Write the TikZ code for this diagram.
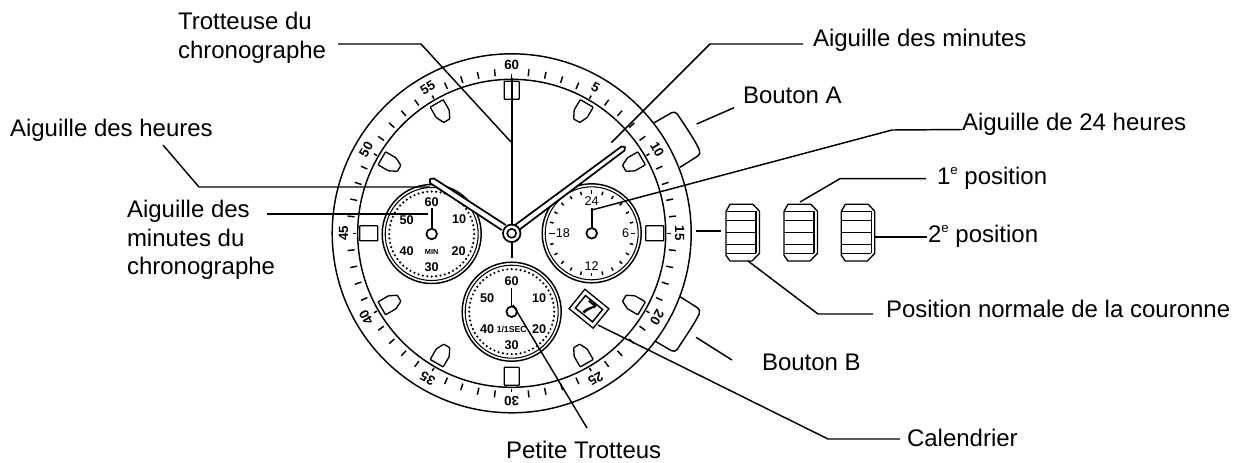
\documentclass[tikz,border=0pt]{standalone}
\usepackage{fontspec}
\setmainfont{Liberation Sans}
\usetikzlibrary{positioning}
\newcommand{\supe}{\raisebox{.42em}{\fontsize{10}{10}\selectfont e}}
\tikzset{>=stealth,
  every node/.style={inner sep=0pt,outer sep=0pt},
  leader/.style={line width=1.1pt},
  ring/.style={line width=1.1pt,fill=white},
  thinring/.style={line width=.8pt},
  marker/.style={line width=1pt,rounded corners=.5pt,fill=white},
  hand/.style={line width=1.3pt,fill=white,line join=round},
  minortick/.style={line width=1.1pt},
  caption/.style={font=\fontsize{18}{21.5}\selectfont,anchor=base west},
  bezelnum/.style={font=\fontsize{10}{10}\selectfont\bfseries},
  dialnum/.style={font=\fontsize{9.5}{10}\selectfont\bfseries},
  dialplain/.style={font=\fontsize{9.5}{10}\selectfont},
  dialsmall/.style={font=\fontsize{5.5}{6}\selectfont\bfseries},
  crownline/.style={line width=.8pt}}
\begin{document}
\begin{tikzpicture}[x=.75pt,y=-.75pt]
  \useasboundingbox (0,0) rectangle (1235,462);
  % push buttons
  \draw[ring,rounded corners=3pt] (654.3,122.7) -- (675,110.7) .. controls (688,130) and (696,142) .. (701,154) -- (680,167.3);
  \draw[ring,rounded corners=3pt] (654.3,340.7) -- (675,352.7) .. controls (688,333) and (696,321) .. (701,310) -- (680,296.7);
  % watch face
  \begin{scope}[shift={(511.7,233.3)}]
    \draw[ring] (0,0) circle (179.5);
    \draw[ring] (0,0) circle (154);
    \foreach \m in {1,...,60}{
      \pgfmathparse{int(mod(\m,5))}
      \ifnum\pgfmathresult=0\else
        \draw[minortick] (6*\m-90:158) -- (6*\m-90:165);
      \fi
    }
    \foreach \m in {5,10,...,60}{
      \draw[minortick] (6*\m-90:155.5) -- (6*\m-90:159);
      \node[bezelnum,rotate=-6*\m] (bezel-\m) at (6*\m-90:168) {\m};
    }
    \foreach \h in {0,3,6,9}{
      \draw[marker,rotate=30*\h] (-7.5,-152) rectangle (7.5,-134);
    }
    \foreach \h in {1,2,4,5,7,8,10,11}{
      \draw[marker,rotate=30*\h] (-7.5,-150) -- (7.5,-150) -- (7.5,-138) -- (3.5,-130) -- (-3.5,-130) -- (-7.5,-138) -- cycle;
    }
  \end{scope}
  % left dial
  \begin{scope}[shift={(431.7,234)}]
    \draw[ring] (0,0) circle (49.5);
    \draw[thinring] (0,0) circle (46.5);
    \foreach \m in {1,...,60}{
      \fill (6*\m:42.5) circle (1.2);
    }
    \foreach \px/\py/\t in {0/-32/60,-25/-14/50,27.5/-14.5/10,-25/17/40,27/17/20,0/33/30}{
      \node[dialnum] (min-\t) at (\px,\py) {\t};
    }
    \node[dialsmall] (min-label) at (0,18) {MIN};
    \draw[line width=1.4pt] (0,-26) -- (0,-5);
    \draw[hand] (0,0) circle (5.3);
    \coordinate (minhand) at (-4,-20);
  \end{scope}
  % right dial
  \begin{scope}[shift={(591.7,233.3)}]
    \draw[ring] (0,0) circle (49.5);
    \draw[thinring] (0,0) circle (46.5);
    \foreach \m in {0,...,23}{
      \draw[minortick] (15*\m:39.5) -- (15*\m:43);
    }
    \node[dialplain] (hr-24) at (0,-32) {24};
    \node[dialplain] (hr-18) at (-31,0) {-18};
    \node[dialplain] (hr-6) at (34,0) {6};
    \node[dialplain] (hr-12) at (0,32.5) {12};
    \draw[line width=1.8pt] (0,-25) -- (0,-5);
    \draw[hand] (0,0) circle (5.3);
    \coordinate (hrhand) at (-1,-23);
  \end{scope}
  % bottom dial
  \begin{scope}[shift={(511.7,311.7)}]
    \draw[ring] (0,0) circle (49.5);
    \draw[thinring] (0,0) circle (46.5);
    \foreach \m in {1,...,60}{
      \fill (6*\m:42.5) circle (1.2);
    }
    \foreach \px/\py/\t in {0/-31/60,-24.5/-13.5/50,27.5/-13.5/10,-24.5/17.5/40,27.5/17.5/20,0/33/30}{
      \node[dialnum] (sec-\t) at (\px,\py) {\t};
    }
    \node[dialsmall,font=\fontsize{6.5}{7}\selectfont\bfseries] (sec-label) at (0,18) {1/1SEC};
    \draw[line width=1pt] (0,-24) -- (0,-5);
    \draw[hand] (0,0) circle (5.3);
    \coordinate (sechand) at (1.3,-6.7);
  \end{scope}
  % date window
  \node[draw,line width=1pt,fill=white,minimum width=31*.75pt,minimum height=25*.75pt,rotate=-39] (dateframe) at (589,308.7) {};
  \node[draw,line width=1.1pt,minimum width=22*.75pt,minimum height=16*.75pt,rotate=-39] (datebox) at (dateframe) {};
  \node[font=\fontsize{15}{15}\selectfont\bfseries,rotate=-39] (date) at (dateframe) {7};
  % hands
  \draw[line width=1.7pt] (511.7,78) -- (511.7,257.5);
  \draw[hand] (515,225) -- (621.5,146.5) -- (625,147) -- (624.5,150.5) -- (519,230);
  \draw[hand] (505.7,225) -- (434,178.5) -- (430,179) -- (430,183) -- (501.7,230);
  \node[draw,circle,line width=1.3pt,fill=white,minimum size=17.5*.75pt] (hub) at (511.7,233.3) {};
  \node[draw,circle,line width=1.2pt,minimum size=9*.75pt] (hubinner) at (hub) {};
  % crowns
  \foreach \n/\cx in {a/726,b/784,c/841.3}{
    \begin{scope}[shift={(\cx,204.3)}]
      \draw[line width=1pt,fill=white] (4,0) -- (27,0) -- (33.5,7) -- (33.5,49) -- (26,56.7) -- (4,56.7) -- (0,51) -- (0,7) -- cycle;
      \draw[crownline] (0,7.5) -- (30,7.5) (0,16) -- (30,16) (0,40) -- (30,40) (0,49) -- (30,49) (30,7) -- (30,49);
      \draw[line width=1.2pt] (0,28) -- (30,28);
      \coordinate (crown-\n) at (\cx,204.3);
    \end{scope}
  }
  % labels
  \node[caption,align=left,anchor=north west] (chronolabel) at (178,12.5) {Trotteuse du\\chronographe};
  \node[caption] (minuteslabel) at (813,46) {Aiguille des minutes};
  \node[caption] (boutonAlabel) at (743,103) {Bouton A};
  \node[caption] (hr24label) at (962,130.7) {Aiguille de 24 heures};
  \node[caption] (heureslabel) at (10,136.7) {Aiguille des heures};
  \node[caption] (pos1label) at (937,184.5) {1\supe\ position};
  \node[caption,align=left,anchor=north west] (minchronolabel) at (127,200) {Aiguille des\\minutes du\\chronographe};
  \node[caption] (pos2label) at (928,242.5) {2\supe\ position};
  \node[caption] (normallabel) at (886,317) {Position normale de la couronne};
  \node[caption] (boutonBlabel) at (762,370) {Bouton B};
  \node[caption] (calendarlabel) at (907,446) {Calendrier};
  \node[caption] (petitelabel) at (506,458.5) {Petite Trotteus};
  % leader points
  \coordinate (l1a) at (338,44);
  \coordinate (l1b) at (421,44);
  \coordinate (l1c) at (511,142);
  \coordinate (l2a) at (803,44);
  \coordinate (l2b) at (710,44);
  \coordinate (l2c) at (611.5,142.5);
  \coordinate (l3a) at (734,107.7);
  \coordinate (l3b) at (696.7,124);
  \coordinate (l4a) at (962,129.5);
  \coordinate (l4b) at (892,130);
  \coordinate (l5a) at (163,145);
  \coordinate (l5b) at (199,187);
  \coordinate (l5c) at (430,187);
  \coordinate (l6a) at (926,178.7);
  \coordinate (l6b) at (840,178.7);
  \coordinate (l6c) at (800,202);
  \coordinate (l7a) at (267,214);
  \coordinate (l8a) at (927,237);
  \coordinate (l8b) at (875,237);
  \coordinate (l9a) at (696,231);
  \coordinate (l9b) at (721,231);
  \coordinate (l10a) at (748,261);
  \coordinate (l10b) at (818,314);
  \coordinate (l10c) at (873,314);
  \coordinate (l11a) at (696,337.3);
  \coordinate (l11b) at (732,360);
  \coordinate (l12a) at (598,325);
  \coordinate (l12b) at (828,439);
  \coordinate (l12c) at (900,439);
  \coordinate (l13a) at (587,428);
  \draw[leader] (l1a) -- (l1b) -- (l1c);
  \draw[leader] (l2a) -- (l2b) -- (l2c);
  \draw[leader] (l3a) -- (l3b);
  \draw[leader] (l4a) -- (l4b) -- (hrhand);
  \draw[leader] (l5a) -- (l5b) -- (l5c);
  \draw[leader] (l6a) -- (l6b) -- (l6c);
  \draw[leader] (l7a) -- (minhand);
  \draw[leader] (l8a) -- (l8b);
  \draw[leader] (l9a) -- (l9b);
  \draw[leader] (l10a) -- (l10b) -- (l10c);
  \draw[leader] (l11a) -- (l11b);
  \draw[leader] (l12a) -- (l12b) -- (l12c);
  \draw[leader] (l13a) -- (sechand);
\end{tikzpicture}
\end{document}
